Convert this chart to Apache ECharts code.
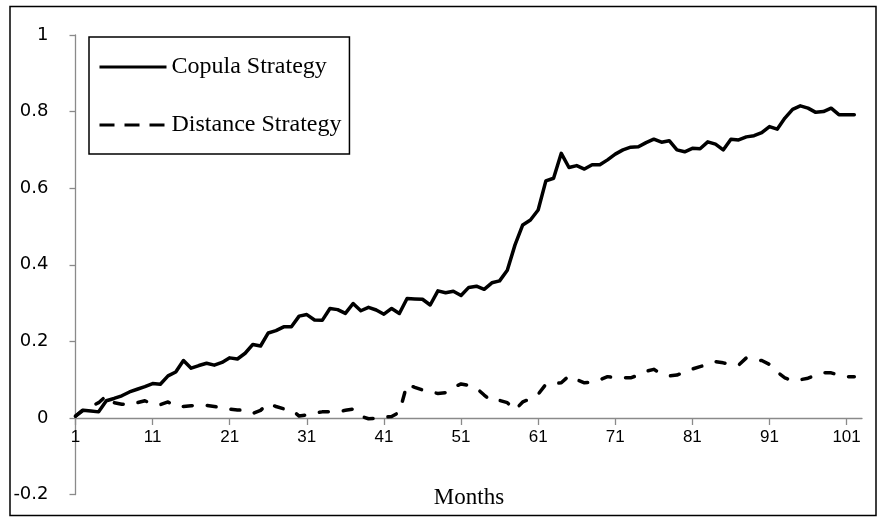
<!DOCTYPE html>
<html>
<head>
<meta charset="utf-8">
<script src="https://cdn.jsdelivr.net/npm/echarts@6/dist/echarts.min.js"></script>
<style>
  html, body { margin: 0; padding: 0; background: #fff; }
  #chart { width: 878px; height: 517px; }
</style>
</head>
<body>
<div id="chart"></div>
<script>
// months 1..103 (last category has no value, the axis just runs on to it)
var months = [];
for (var m = 1; m <= 103; m++) { months.push(String(m)); }

var seriesNames = ['Copula Strategy', 'Distance Strategy'];
var xTitle = 'Months';

var copula = [
    0.005, 0.02, 0.018, 0.016, 0.045, 0.051, 0.058, 0.068, 0.075, 0.082,
    0.09, 0.088, 0.11, 0.12, 0.15, 0.13, 0.137, 0.143, 0.138, 0.145,
    0.157, 0.154, 0.169, 0.192, 0.188, 0.222, 0.228, 0.238, 0.238, 0.266,
    0.27, 0.256, 0.255, 0.286, 0.283, 0.273, 0.299, 0.28, 0.289, 0.282,
    0.271, 0.286, 0.273, 0.312, 0.311, 0.31, 0.295, 0.332, 0.327, 0.331,
    0.32, 0.341, 0.344, 0.336, 0.353, 0.358, 0.386, 0.452, 0.504, 0.517,
    0.543, 0.619, 0.626, 0.691, 0.654, 0.659, 0.65, 0.661, 0.661, 0.674,
    0.689, 0.70, 0.707, 0.708, 0.719, 0.728, 0.72, 0.724, 0.70, 0.695,
    0.704, 0.703, 0.721, 0.715, 0.70, 0.728, 0.726, 0.734, 0.737, 0.745,
    0.761, 0.754, 0.783, 0.806, 0.815, 0.809, 0.798, 0.80, 0.809, 0.792,
    0.792, 0.792
];

var distance = [
    0.005, 0.022, 0.03, 0.04, 0.058, 0.04, 0.036, 0.035, 0.04, 0.045,
    0.036, 0.035, 0.042, 0.03, 0.03, 0.032, 0.033, 0.033, 0.03, 0.027,
    0.023, 0.021, 0.02, 0.012, 0.02, 0.038, 0.03, 0.024, 0.022, 0.005,
    0.008, 0.013, 0.016, 0.016, 0.017, 0.02, 0.023, 0.005, -0.002, -0.001,
    0.002, 0.004, 0.015, 0.088, 0.08, 0.073, 0.068, 0.064, 0.066, 0.08,
    0.089, 0.085, 0.078, 0.06, 0.044, 0.046, 0.04, 0.021, 0.042, 0.05,
    0.062, 0.088, 0.09, 0.092, 0.11, 0.1, 0.092, 0.093, 0.1, 0.108,
    0.105, 0.105, 0.105, 0.112, 0.122, 0.127, 0.115, 0.11, 0.112, 0.12,
    0.128, 0.134, 0.14, 0.147, 0.144, 0.14, 0.138, 0.157, 0.153, 0.15,
    0.14, 0.12, 0.105, 0.097, 0.1, 0.104, 0.112, 0.118, 0.118, 0.112,
    0.108, 0.108
];

var yMin = -0.2, yMax = 1, yStep = 0.2;

var axisGray = '#8a8a8a';
var sansFont = 'Liberation Sans';
var serifFont = 'Liberation Serif';

var chart = echarts.init(document.getElementById('chart'), null, { renderer: 'canvas' });

var option = {
    backgroundColor: '#fff',
    animation: false,
    grid: { left: 75.5, right: 16, top: 35, bottom: 22.4, outerBoundsMode: 'none', containLabel: false },
    legend: {
        data: [
            { name: seriesNames[0], lineStyle: { width: 3, cap: 'butt' } },
            { name: seriesNames[1], lineStyle: { width: 3, type: [15, 10], cap: 'butt' } }
        ],
        orient: 'vertical', left: 89, top: 37,
        padding: [18, 8, 17, 9], itemGap: 34,
        itemWidth: 67, itemHeight: 14,
        itemStyle: { opacity: 0 },
        borderColor: '#000', borderWidth: 1.5,
        selectedMode: false,
        textStyle: { fontFamily: serifFont, fontSize: 24, color: '#000', lineHeight: 24 }
    },
    xAxis: {
        type: 'category', data: months, boundaryGap: false,
        axisLine: { onZero: true, lineStyle: { color: axisGray, width: 1.3 } },
        axisTick: { interval: 9, length: 7, lineStyle: { color: axisGray, width: 1.3 } },
        // labels sit under the zero line, not under the grid bottom
        axisLabel: { interval: 9, margin: -66, fontFamily: sansFont, fontSize: 17, color: '#000' },
        splitLine: { show: false }
    },
    yAxis: {
        type: 'value', min: yMin, max: yMax, interval: yStep,
        axisLine: { show: true, lineStyle: { color: axisGray, width: 1.3 } },
        axisTick: { show: true, length: 6, lineStyle: { color: axisGray, width: 1.3 } },
        axisLabel: { margin: 27, fontFamily: 'DejaVu Sans', fontSize: 18, color: '#000',
            formatter: function (v) { return String(Math.round(v * 10) / 10); } },
        splitLine: { show: false }
    },
    series: [
        {
            name: seriesNames[0], type: 'line', data: copula,
            symbol: 'none', showSymbol: false,
            lineStyle: { color: '#000', width: 3.5, cap: 'round', join: 'round' },
            itemStyle: { color: '#000' }
        },
        {
            name: seriesNames[1], type: 'line', data: distance,
            symbol: 'none', showSymbol: false,
            lineStyle: { color: '#000', width: 3.5, type: [9, 15], cap: 'round', join: 'round' },
            itemStyle: { color: '#000' }
        }
    ],
    graphic: [
        {
            type: 'rect', silent: true, z: -1,
            shape: { x: 10, y: 6.5, width: 866, height: 509 },
            style: { fill: 'none', stroke: '#000', lineWidth: 1.5 }
        },
        {
            type: 'text', silent: true, x: 469, y: 498,
            style: { text: xTitle, fontFamily: serifFont, fontSize: 23, fill: '#000',
                align: 'center', verticalAlign: 'middle' }
        }
    ]
};

chart.setOption(option);
</script>
</body>
</html>
